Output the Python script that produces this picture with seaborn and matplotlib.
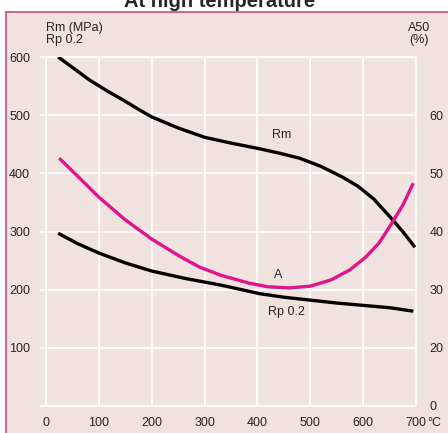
import numpy as np
import pandas as pd
import matplotlib
matplotlib.use("Agg")
import matplotlib.pyplot as plt
from matplotlib.patches import Rectangle
from matplotlib.lines import Line2D
import seaborn as sns

# values
rm_temp = [23, 50, 83, 115, 146, 175, 200, 250, 300, 350, 400, 440, 480, 520, 560, 590, 620, 651, 675, 698]
rm_mpa = [600, 582, 560, 542, 526, 510, 497, 478, 462, 452, 443, 435, 426, 412, 394, 378, 356, 325, 300, 273]

rp_temp = [23, 60, 100, 150, 200, 265, 330, 405, 450, 500, 550, 600, 650, 695]
rp_mpa = [297, 279, 263, 246, 232, 219, 208, 193, 187, 182, 177, 173, 169, 163]

a_temp = [25, 60, 100, 150, 200, 250, 290, 330, 385, 420, 460, 500, 540, 575, 605, 630, 650, 675, 695]
a_pct = [52.6, 49.5, 45.9, 42.0, 38.7, 35.9, 33.9, 32.5, 31.1, 30.5, 30.3, 30.6, 31.7, 33.4, 35.6, 38.0, 40.8, 44.5, 48.3]

x_ticks = [0, 100, 200, 300, 400, 500, 600, 700]
left_ticks = [100, 200, 300, 400, 500, 600]
right_pos = [10, 20, 30, 40, 50, 60]
right_labels = ["0", "20", "30", "40", "50", "60"]

bg = "#f0e2de"
pink = "#e0148c"
fs = 9

sns.set_style("white", {"axes.facecolor": bg})
plt.rcParams['font.family'] = ['Liberation Sans', 'DejaVu Sans']

fig = plt.figure(figsize=(4.48, 4.33), dpi=100)
fig.patch.set_facecolor("white")

W, H = 448, 433
# panel background with top and left border
fig.patches.append(Rectangle((6 / W, 0), 1 - 6 / W, 1 - 12 / H, transform=fig.transFigure,
                             facecolor=bg, edgecolor="none", zorder=-5))
fig.lines.append(Line2D([6 / W, 1], [1 - 12 / H, 1 - 12 / H], transform=fig.transFigure,
                        color="#c8507a", lw=1.2, zorder=-4))
fig.lines.append(Line2D([6 / W, 6 / W], [0, 1 - 12 / H], transform=fig.transFigure,
                        color="#c8507a", lw=1.2, zorder=-4))

fig.text(0.49, 1 - 7 / H, "At high temperature", ha="center", va="baseline",
         fontsize=14.5, fontweight="bold")

ax = fig.add_axes([39.7 / W, 27 / H, (417 - 39.7) / W, (406 - 57) / H])
ax.set_facecolor(bg)

ax.set_xlim(-12, 702)
ax.set_ylim(0, 600)
for v in x_ticks:
    ax.plot([v, v], [0, 600], color="white", lw=1.3, zorder=1, clip_on=False)
for v in [0] + left_ticks:
    ax.plot([-12, 700], [v, v], color="white", lw=1.3, zorder=1, clip_on=False)

rm = pd.DataFrame({"t": rm_temp, "v": rm_mpa})
rp = pd.DataFrame({"t": rp_temp, "v": rp_mpa})
sns.lineplot(data=rm, x="t", y="v", ax=ax, color="black", lw=2.4, zorder=3)
sns.lineplot(data=rp, x="t", y="v", ax=ax, color="black", lw=2.4, zorder=3)

# right axis: A50 (%) sits on the same grid, 60 % at the 500 MPa line
ax2 = ax.twinx()
ax2.set_ylim(10, 70)
a = pd.DataFrame({"t": a_temp, "v": a_pct})
sns.lineplot(data=a, x="t", y="v", ax=ax2, color=pink, lw=2.4, zorder=3)
ax2.set_xlim(-12, 702)

ax.set_xticks(x_ticks)
ax.set_xticklabels([str(v) for v in x_ticks])
ax.set_yticks(left_ticks)
ax.set_yticklabels([str(v) for v in left_ticks])
ax2.set_yticks(right_pos)
ax2.set_yticklabels(right_labels)
ax.tick_params(axis="both", length=0, labelsize=fs)
ax.tick_params(axis="y", pad=7)
ax.tick_params(axis="x", pad=8)
ax2.tick_params(axis="y", length=0, labelsize=fs, pad=9)
ax.set_xlabel("")
ax.set_ylabel("")
ax2.set_ylabel("")
for s in list(ax.spines.values()) + list(ax2.spines.values()):
    s.set_visible(False)
for ln in ax.lines + ax2.lines:
    ln.set_solid_capstyle("butt")

ax.text(428, 466, "Rm", fontsize=fs, ha="left", va="center")
ax.text(440, 225, "A", fontsize=fs, ha="center", va="center")
ax.text(455, 162, "Rp 0.2", fontsize=fs, ha="center", va="center")
ax.text(721, -29, "°C", fontsize=fs, ha="left", va="center", clip_on=False)

fig.text(46 / W, 1 - 22 / H, "Rm (MPa)\nRp 0.2", ha="left", va="top",
         fontsize=fs, linespacing=0.95)
fig.text(419 / W, 1 - 22 / H, "A50\n(%)", ha="center", va="top",
         fontsize=fs, linespacing=0.95)

fig.savefig("out.png", dpi=100, facecolor=fig.get_facecolor())
